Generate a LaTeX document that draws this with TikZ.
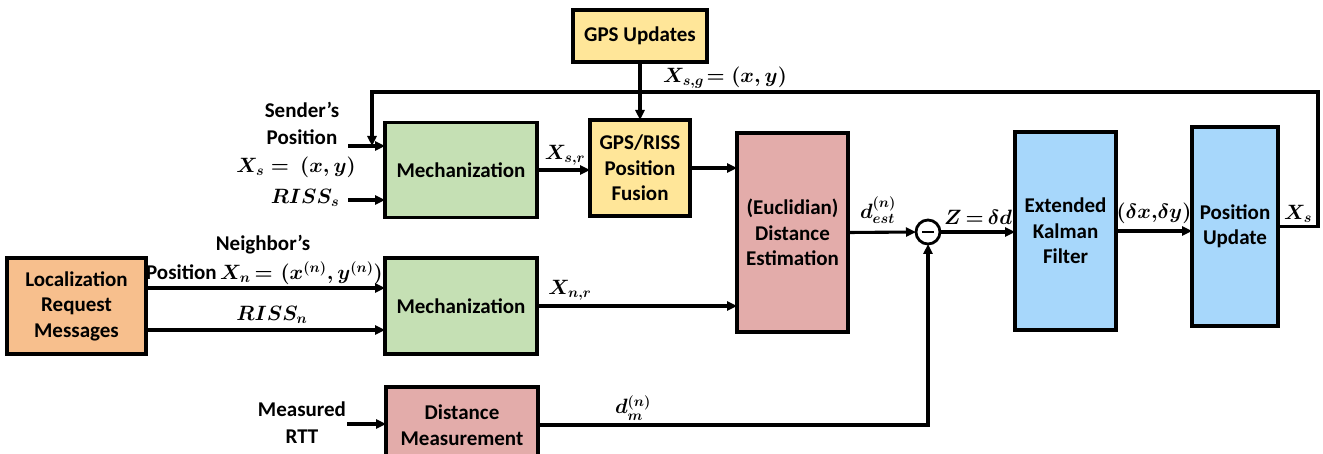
\documentclass[tikz,border=0pt]{standalone}
\usepackage{fontspec}
\setmainfont{Carlito}
\usepackage{amsmath}
\usetikzlibrary{arrows.meta}
\definecolor{mechgreen}{HTML}{C5E0B4}
\definecolor{gpsyellow}{HTML}{FFE699}
\definecolor{distpink}{HTML}{E3ACAA}
\definecolor{ekfblue}{HTML}{A7D7FB}
\definecolor{locorange}{HTML}{F7BF8D}
\begin{document}
\begin{tikzpicture}[x=1pt,y=-1pt,
  blk/.style={draw=black, line width=3.4pt, inner sep=0pt, outer sep=0pt, align=center,
    font=\bfseries\fontsize{21}{25.5}\selectfont},
  lbl/.style={inner sep=0pt, align=center, font=\bfseries\fontsize{21}{27}\selectfont},
  mlbl/.style={inner sep=0pt, font=\fontsize{20.5}{24}\selectfont\boldmath},
  arr/.style={line width=3.1pt, -{Triangle[length=10pt,width=9pt]}},
  sumcirc/.style={circle, draw=black, line width=2.8pt, minimum size=24pt, inner sep=0pt, outer sep=0pt, fill=white}]
\useasboundingbox (0,0) rectangle (1323,454);
\clip (0,0) rectangle (1323,454);

% processing blocks
\node[blk, fill=gpsyellow, minimum width=134pt, minimum height=52pt] (gps) at (640,36) {GPS Updates};
\node[blk, fill=mechgreen, minimum width=152pt, minimum height=95pt] (mech1) at (461,170) {Mechanization};
\node[blk, fill=gpsyellow, minimum width=100pt, minimum height=96pt] (fusion) at (640,168) {GPS/RISS\\Position\\Fusion};
\node[blk, fill=distpink, minimum width=111pt, minimum height=199pt] (dest) at (792.5,232.5) {(Euclidian)\\Distance\\Estimation};
\node[sumcirc] (sum) at (928,232) {};
\node[blk, fill=ekfblue, minimum width=101pt, minimum height=198pt] (ekf) at (1065.5,231) {Extended\\Kalman\\Filter};
\node[blk, fill=ekfblue, minimum width=86pt, minimum height=199pt] (pupd) at (1235,226.5) {Position\\Update};
\node[blk, fill=locorange, minimum width=139pt, minimum height=96pt] (loc) at (76.5,306) {Localization\\Request\\Messages};
\node[blk, fill=mechgreen, minimum width=152pt, minimum height=96pt] (mech2) at (461,306) {Mechanization};
\node[blk, fill=distpink, minimum width=152pt, minimum height=76pt] (dmeas) at (462,425) {Distance\\Measurement};

% minus sign of the comparator
\draw[line width=2.2pt] ([xshift=-6pt]sum.center) -- ([xshift=6pt]sum.center);

% text labels
\node[lbl] (sendlbl) at (302,123.5) {Sender’s\\Position};
\node[mlbl] (xslbl) at (296,167) {$X_s =\ (x, y)$};
\node[mlbl] (risss) at (305,198) {$RISS_s$};
\node[lbl] (nbrlbl) at (263,245) {Neighbor’s};
\node[lbl, anchor=east] (xnlbl) at (383,273) {Position\,\mbox{\fontsize{20}{24}\selectfont\boldmath$X_n\,{=}\,\,(x^{(n)}, y^{(n)})$}};
\node[mlbl] (rissn) at (272,315) {$RISS_n$};
\node[lbl] (rttlbl) at (302,423) {Measured\\RTT};
\node[mlbl] (xsr) at (565,155) {$X_{s,r}$};
\node[mlbl] (xnr) at (570,290) {$X_{n,r}$};
\node[mlbl, anchor=west] (xsg) at (663,78) {$X_{s,g}\!= (x, y)$};
\node[mlbl] (dest lbl) at (878,210) {$d_{est}^{(n)}$};
\node[mlbl, anchor=west] (zlbl) at (944,217) {$Z\,{=}\,\delta d$};
\node[mlbl] (dxy) at (1154,213) {$(\delta x,\!\delta y)$};
\node[mlbl] (xsout) at (1298,214) {$X_s$};
\node[mlbl] (dm) at (633,408) {$d_m^{(n)}$};

% free ends and bends
\coordinate (sndin) at (348,146);
\coordinate (rissin) at (348,200);
\coordinate (rttin) at (347,424);
\coordinate (fbA) at (1318,226.5);
\coordinate (fbB) at (1318,92);
\coordinate (fbC) at (372,92);
\coordinate (fbD) at (372,146);
\coordinate (dmcorner) at (928,425);

% connectors
\draw[arr] (gps.south) -- (fusion.north);
\draw[arr] (sndin) -- (sndin -| mech1.west);
\draw[arr] (rissin) -- (rissin -| mech1.west);
\draw[arr] (mech1.east) -- (mech1.east -| fusion.west);
\draw[arr] (fusion.east) -- (fusion.east -| dest.west);
\draw[arr] ([yshift=18pt]loc.east) -- ([yshift=18pt]loc.east -| mech2.west);
\draw[arr] ([yshift=-24pt]loc.east) -- ([yshift=-24pt]loc.east -| mech2.west);
\draw[arr] (mech2.east) -- (mech2.east -| dest.west);
\draw[arr] (dest.east) -- (sum.west);
\draw[arr] (sum.east) -- (sum.east -| ekf.west);
\draw[arr] (ekf.east) -- (ekf.east -| pupd.west);
\draw[arr] (pupd.east) -- (fbA) -- (fbB) -- (fbC) -- (fbD);
\draw[arr] (rttin) -- (rttin -| dmeas.west);
\draw[arr] (dmeas.east) -- (dmcorner) -- (sum.south);
\end{tikzpicture}
\end{document}
